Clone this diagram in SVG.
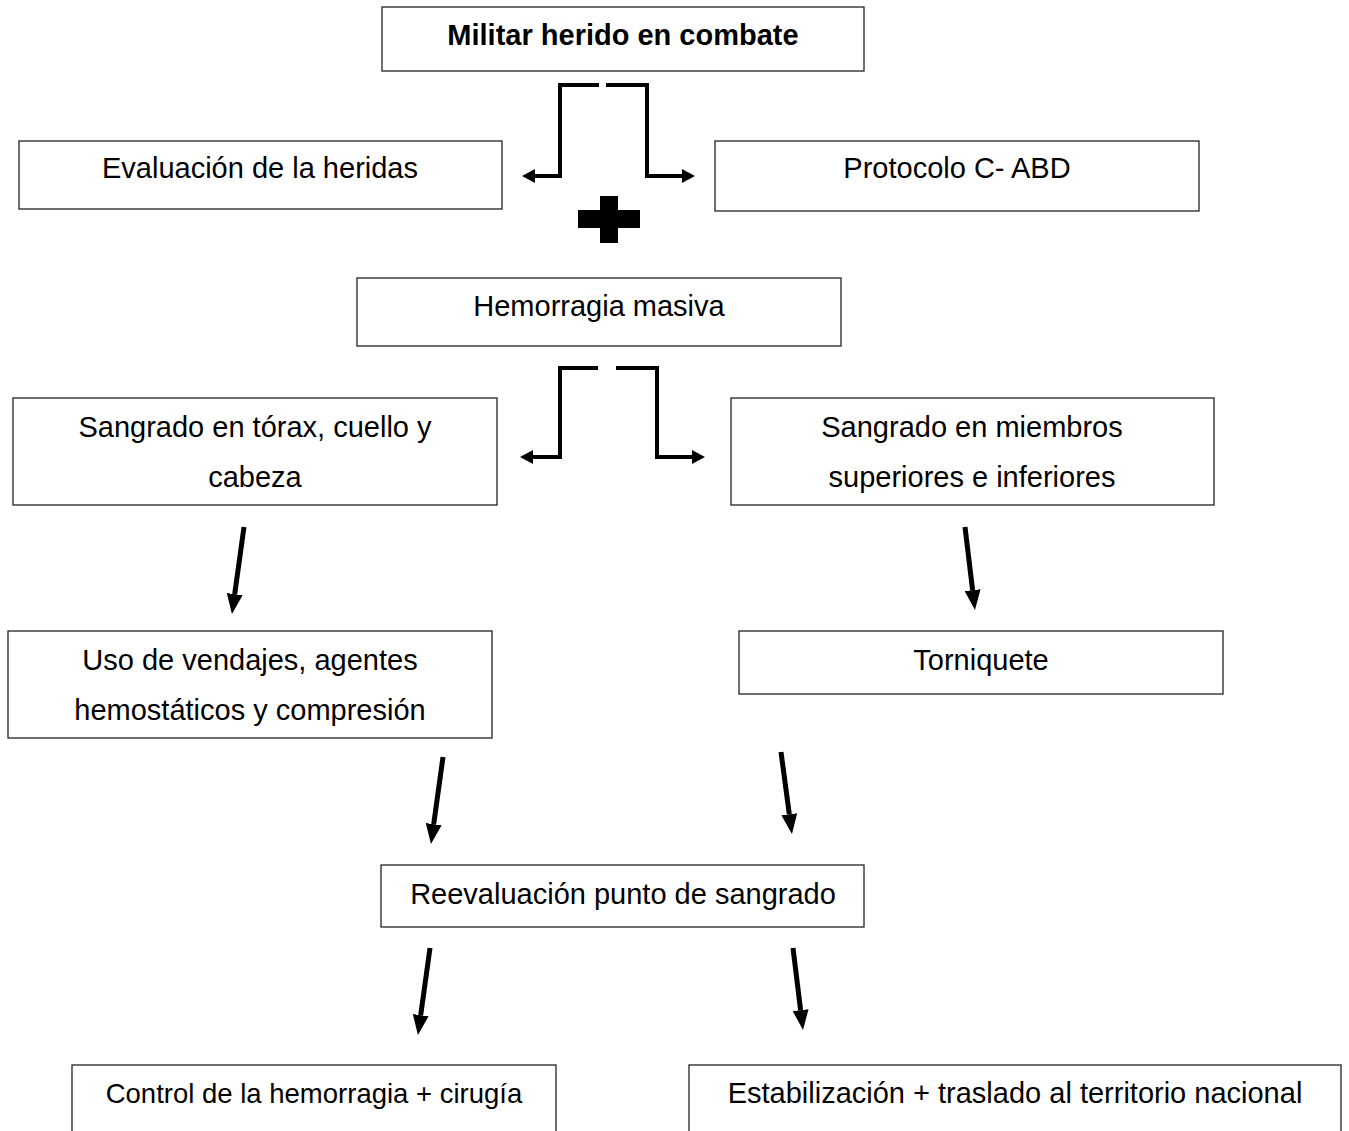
<svg xmlns="http://www.w3.org/2000/svg" width="1349" height="1131" viewBox="0 0 1349 1131">
<style>
.box{fill:#fff;stroke:#222;stroke-width:1.3}
.t{font-family:"Liberation Sans",Arial,sans-serif;font-size:29px;fill:#000;text-anchor:middle}
.b{font-weight:bold}
.elb{fill:none;stroke:#000;stroke-width:4;marker-end:url(#hs)}
.dia{fill:none;stroke:#000;stroke-width:5;marker-end:url(#hb)}
</style>
<defs>
<marker id="hs" markerUnits="userSpaceOnUse" viewBox="0 -7 13 14" refX="0" refY="0" markerWidth="13" markerHeight="14" orient="auto"><path d="M0,-7 L13,0 L0,7 z" fill="#000"/></marker>
<marker id="hb" markerUnits="userSpaceOnUse" viewBox="0 -8 20 16" refX="0" refY="0" markerWidth="20" markerHeight="16" orient="auto"><path d="M0,-8 L20,0 L0,8 z" fill="#000"/></marker>
</defs>
<rect width="1349" height="1131" fill="#fff"/>
<g id="n1"><rect class="box" x="382" y="7" width="482" height="64"/><text class="t b" x="623" y="45">Militar herido en combate</text></g>
<g id="n2"><rect class="box" x="19" y="141" width="483" height="68"/><text class="t" x="260" y="178">Evaluación de la heridas</text></g>
<g id="n3"><rect class="box" x="715" y="141" width="484" height="70"/><text class="t" x="957" y="178">Protocolo C- ABD</text></g>
<g id="plus"><rect x="578" y="210" width="62" height="18" fill="#000"/><rect x="600" y="196" width="18" height="47" fill="#000"/></g>
<g id="n4"><rect class="box" x="357" y="278" width="484" height="68"/><text class="t" x="599" y="316">Hemorragia masiva</text></g>
<g id="n5"><rect class="box" x="13" y="398" width="484" height="107"/><text class="t" x="255" y="437">Sangrado en tórax, cuello y</text><text class="t" x="255" y="487">cabeza</text></g>
<g id="n6"><rect class="box" x="731" y="398" width="483" height="107"/><text class="t" x="972" y="437">Sangrado en miembros</text><text class="t" x="972" y="487">superiores e inferiores</text></g>
<g id="n7"><rect class="box" x="8" y="631" width="484" height="107"/><text class="t" x="250" y="670">Uso de vendajes, agentes</text><text class="t" x="250" y="720">hemostáticos y compresión</text></g>
<g id="n8"><rect class="box" x="739" y="631" width="484" height="63"/><text class="t" x="981" y="670">Torniquete</text></g>
<g id="n9"><rect class="box" x="381" y="865" width="483" height="62"/><text class="t" x="623" y="904">Reevaluación punto de sangrado</text></g>
<g id="n10"><rect class="box" x="72" y="1065" width="484" height="90"/><text class="t" x="314" y="1103" style="font-size:27.5px">Control de la hemorragia + cirugía</text></g>
<g id="n11"><rect class="box" x="689" y="1065" width="652" height="90"/><text class="t" x="1015" y="1103">Estabilización + traslado al territorio nacional</text></g>
<g id="connectors">
<path class="elb" d="M599,85 H560 V176 H535"/>
<path class="elb" d="M606,85 H647 V176 H682"/>
<path class="elb" d="M598,368 H560 V457 H533"/>
<path class="elb" d="M616,368 H657 V457 H692"/>
<path class="dia" d="M244,527 L234.7,594.2"/>
<path class="dia" d="M965,527 L972.6,590.1"/>
<path class="dia" d="M443,757 L433.7,824.2"/>
<path class="dia" d="M781,752 L789.3,814.2"/>
<path class="dia" d="M430,948 L420.7,1015.2"/>
<path class="dia" d="M793,948 L800.6,1010.1"/>
</g>
</svg>
